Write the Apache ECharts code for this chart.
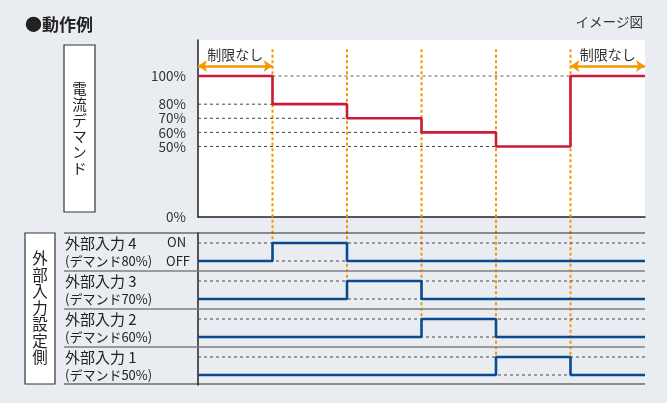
<!DOCTYPE html>
<html>
<head>
<meta charset="utf-8">
<script src="https://cdn.jsdelivr.net/npm/echarts@6/dist/echarts.min.js"></script>
<style>
  html, body { margin: 0; padding: 0; background: #E9ECF0; }
  #chart { width: 667px; height: 403px; }
</style>
</head>
<body>
<div id="chart"></div>
<script>
// Time segments: boundaries 0..6, one demand value per segment
const demand = [100, 80, 70, 60, 50, 100];
const yTicks = [0, 50, 60, 70, 80, 100];

// External inputs (top to bottom), 1 = ON, 0 = OFF per segment
const inputNames = ['外部入力 4', '外部入力 3', '外部入力 2', '外部入力 1'];
const inputNotes = ['(デマンド80%)', '(デマンド70%)', '(デマンド60%)', '(デマンド50%)'];
const input4 = [0, 1, 0, 0, 0, 0];
const input3 = [0, 0, 1, 0, 0, 0];
const input2 = [0, 0, 0, 1, 0, 0];
const input1 = [0, 0, 0, 0, 1, 0];
const inputStates = [input4, input3, input2, input1];

const noLimitLabel = '制限なし';
const onLabel = 'ON';
const offLabel = 'OFF';

// ---- layout & style ----
const FONT = '"Noto Sans CJK JP", "Noto Sans", sans-serif';
const TXT = '#333';
const RED = '#CC1A3A';
const BLUE = '#0A4A90';
const ORANGE = '#F39800';
const PLOT_L = 198, PLOT_W = 447;
const ROW_TOP = 233, ROW_H = 38;
const ROW_PAD = 10 / 18;   // space above ON / below OFF in row units
const ARROW_LEVEL = 107;   // height of the "no limit" arrows (percent scale)
const GUIDE_TOP = 119;     // where the orange event guides start (percent scale)

const nSeg = demand.length;
const stepData = vals => vals.map((v, i) => [i, v]).concat([[vals.length, vals[vals.length - 1]]]);

const grids = [{ left: PLOT_L, width: PLOT_W, top: 40, height: 177, show: true,
                 backgroundColor: '#fff', borderWidth: 0 }];
const xAxes = [{
  type: 'value', gridIndex: 0, min: 0, max: nSeg,
  axisLine: { show: true, lineStyle: { color: '#222', width: 1.5 } },
  axisTick: { show: false }, axisLabel: { show: false }, splitLine: { show: false }
}];
const yAxes = [{
  type: 'value', gridIndex: 0, min: 0, max: 125.5, interval: 10,
  axisLine: { show: true, lineStyle: { color: '#222', width: 1.5 } },
  axisTick: { show: false }, splitLine: { show: false },
  axisLabel: {
    margin: 12, color: TXT, fontSize: 13.5, fontFamily: FONT,
    showMaxLabel: false,
    formatter: v => yTicks.includes(v) ? v + '%' : ''
  }
}];

const series = [];

// Dashed level guides in the demand plot
const maxLevel = Math.max(...demand);
demand.forEach((d, i) => {
  if (d < maxLevel) {
    series.push({
      type: 'line', xAxisIndex: 0, yAxisIndex: 0, silent: true, symbol: 'none', z: 1,
      lineStyle: { color: '#444', width: 1, type: [3, 3] },
      data: [[0, d], [i, d]]
    });
  }
});
const firstDrop = demand.findIndex(d => d < maxLevel);
let lastRise = nSeg - 1;
while (lastRise > 0 && demand[lastRise - 1] === maxLevel) lastRise--;
series.push({
  type: 'line', xAxisIndex: 0, yAxisIndex: 0, silent: true, symbol: 'none', z: 1,
  lineStyle: { color: '#888', width: 1.3, type: [3, 3] },
  data: [[firstDrop, maxLevel], [lastRise, maxLevel]]
});

// Demand step line with "no limit" arrows
const noLimitSpans = [[0, firstDrop], [lastRise, nSeg]];
series.push({
  type: 'line', xAxisIndex: 0, yAxisIndex: 0, step: 'end', symbol: 'none', z: 3,
  lineStyle: { color: RED, width: 2.6 },
  data: stepData(demand),
  markLine: {
    silent: true, animation: false,
    symbol: ['arrow', 'arrow'], symbolSize: [9, 9],
    lineStyle: { color: ORANGE, width: 2.5, type: 'solid' },
    label: { show: true, formatter: noLimitLabel, position: 'insideMiddleTop', distance: 4,
             color: TXT, fontSize: 14, fontFamily: FONT },
    data: noLimitSpans.map(s => [{ coord: [s[0], ARROW_LEVEL] }, { coord: [s[1], ARROW_LEVEL] }])
  }
});

// Input rows
inputStates.forEach((st, r) => {
  const g = r + 1;
  grids.push({ left: PLOT_L, width: PLOT_W, top: ROW_TOP + ROW_H * r, height: ROW_H });
  xAxes.push({ type: 'value', gridIndex: g, min: 0, max: nSeg, show: false });
  yAxes.push({
    type: 'value', gridIndex: g, min: -ROW_PAD, max: 1 + ROW_PAD,
    axisLine: { show: true, lineStyle: { color: '#222', width: 1.5 } },
    axisTick: { show: false }, axisLabel: { show: false }, splitLine: { show: false }
  });
  [1, 0].forEach(level => {
    series.push({
      type: 'line', xAxisIndex: g, yAxisIndex: g, silent: true, symbol: 'none', z: 1,
      lineStyle: { color: '#555', width: 1.1, type: [3, 3] },
      data: [[0, level], [nSeg, level]]
    });
  });
  series.push({
    type: 'line', xAxisIndex: g, yAxisIndex: g, step: 'end', symbol: 'none', z: 3,
    lineStyle: { color: BLUE, width: 2.6 },
    data: stepData(st)
  });
});

// Static graphics: title, boxes, row labels, separators
const graphics = [
  { type: 'text', left: 25, top: 16, style: { text: '●動作例', font: 'bold 17px ' + FONT, fill: '#222' } },
  { type: 'text', right: 24, top: 15, style: { text: 'イメージ図', font: '13.5px ' + FONT, fill: TXT } },
  { type: 'rect', shape: { x: 64, y: 45, width: 31, height: 167 },
    style: { fill: '#fff', stroke: '#333', lineWidth: 1.2 }, z: 5 },
  { type: 'text', x: 79.5, y: 128, z: 6,
    style: { text: '電\n流\nデ\nマ\nン\nド', font: '14.5px ' + FONT, fill: '#222',
             align: 'center', verticalAlign: 'middle', lineHeight: 16 } },
  { type: 'rect', shape: { x: 25, y: 233, width: 30, height: 151 },
    style: { fill: '#fff', stroke: '#333', lineWidth: 1.2 }, z: 5 },
  { type: 'text', x: 40, y: 308, z: 6,
    style: { text: '外\n部\n入\n力\n設\n定\n側', font: '15.5px ' + FONT, fill: '#222',
             align: 'center', verticalAlign: 'middle', lineHeight: 16.5 } }
];
for (let r = 0; r <= inputStates.length; r++) {
  const y = ROW_TOP + ROW_H * r - (r === inputStates.length ? 1 : 0);
  const edge = r === 0 || r === inputStates.length;
  graphics.push({ type: 'line', z: 4,
    shape: { x1: 64, y1: y, x2: PLOT_L + PLOT_W, y2: y },
    style: { stroke: edge ? '#2a2a2a' : '#808080', lineWidth: edge ? 1.2 : 1.6 } });
}
inputNames.forEach((name, r) => {
  const top = ROW_TOP + ROW_H * r;
  graphics.push({ type: 'text', x: 65, y: top + 10, z: 6,
    style: { text: name, font: '15px ' + FONT, fill: '#222', verticalAlign: 'middle' } });
  graphics.push({ type: 'text', x: 65, y: top + 28, z: 6,
    style: { text: inputNotes[r], font: '13px ' + FONT, fill: '#222', verticalAlign: 'middle' } });
});
graphics.push({ type: 'text', x: 167, y: ROW_TOP + 9, z: 6,
  style: { text: onLabel, font: '13px ' + FONT, fill: '#222', verticalAlign: 'middle' } });
graphics.push({ type: 'text', x: 166, y: ROW_TOP + 28, z: 6,
  style: { text: offLabel, font: '13px ' + FONT, fill: '#222', verticalAlign: 'middle' } });

const chart = echarts.init(document.getElementById('chart'), null, { renderer: 'canvas' });
chart.setOption({
  animation: false,
  backgroundColor: '#E9ECF0',
  textStyle: { fontFamily: FONT },
  grid: grids, xAxis: xAxes, yAxis: yAxes, series: series,
  graphic: graphics
});

// Orange event guides: from the top of the demand plot down to the deepest input that switches
const guides = [];
for (let t = 1; t < nSeg; t++) {
  let deepest = -1;
  inputStates.forEach((st, r) => { if (st[t] !== st[t - 1]) deepest = r; });
  const top = chart.convertToPixel({ gridIndex: 0 }, [t, GUIDE_TOP]);
  const end = deepest >= 0
    ? chart.convertToPixel({ gridIndex: deepest + 1 }, [t, 1])
    : chart.convertToPixel({ gridIndex: 0 }, [t, 0]);
  guides.push({ type: 'line', z: 1, silent: true,
    shape: { x1: top[0], y1: top[1], x2: top[0], y2: end[1] },
    style: { stroke: ORANGE, lineWidth: 2, lineDash: [3, 2.5] } });
}
chart.setOption({ graphic: graphics.concat(guides) });
</script>
</body>
</html>
